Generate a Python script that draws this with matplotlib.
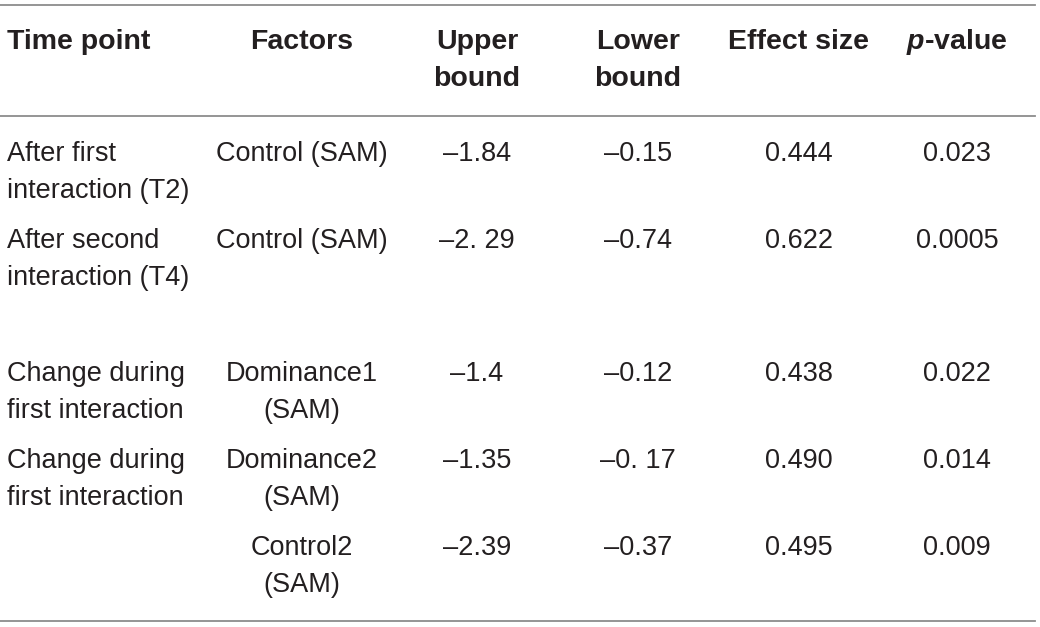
import matplotlib
matplotlib.use("Agg")
import matplotlib.pyplot as plt

headers = ["Time point", "Factors", "Upper\nbound", "Lower\nbound", "Effect size", "$\\it{p}$-value"]
time_points = ["After first\ninteraction (T2)", "After second\ninteraction (T4)",
               "Change during\nfirst interaction", "Change during\nfirst interaction", ""]
factors = ["Control (SAM)", "Control (SAM)", "Dominance1\n(SAM)", "Dominance2\n(SAM)", "Control2\n(SAM)"]
upper = ["\u20131.84", "\u20132. 29", "\u20131.4", "\u20131.35", "\u20132.39"]
lower = ["\u20130.15", "\u20130.74", "\u20130.12", "\u20130. 17", "\u20130.37"]
effect = ["0.444", "0.622", "0.438", "0.490", "0.495"]
pvals = ["0.023", "0.0005", "0.022", "0.014", "0.009"]

plt.rcParams['font.family'] = ['Liberation Sans', 'DejaVu Sans']
plt.rcParams['mathtext.fontset'] = 'custom'
plt.rcParams['mathtext.it'] = 'Liberation Sans:italic:bold'

fig = plt.figure(figsize=(10.4, 6.27), dpi=100)
ax = fig.add_axes([0, 0, 1, 1])
ax.set_xlim(0, 1040)
ax.set_ylim(627, 0)
ax.axis("off")

ink = "#231f20"
rule = "#8c8c8c"
fs = 19.5
fs_head = 20.5
step = 37

col_x = [7, 302, 477, 638, 799, 957]
col_ha = ["left", "center", "center", "center", "center", "center"]
row_y = [153, 240, 373, 460, 547]


def put(x, y, s, ha, size, weight="normal"):
    for i, line in enumerate(s.split("\n")):
        ax.text(x, y + i * step + 1, line, ha=ha, va="center", fontsize=size,
                color=ink, fontweight=weight)


for x, ha, h in zip(col_x, col_ha, headers):
    put(x, 41, h, ha, fs_head, "bold")

columns = [time_points, factors, upper, lower, effect, pvals]
for x, ha, col in zip(col_x, col_ha, columns):
    for y, s in zip(row_y, col):
        put(x, y, s, ha, fs)

for y in [5, 116, 621]:
    ax.plot([0, 1035], [y, y], color=rule, lw=1.3)

fig.savefig("out.png", dpi=100)
